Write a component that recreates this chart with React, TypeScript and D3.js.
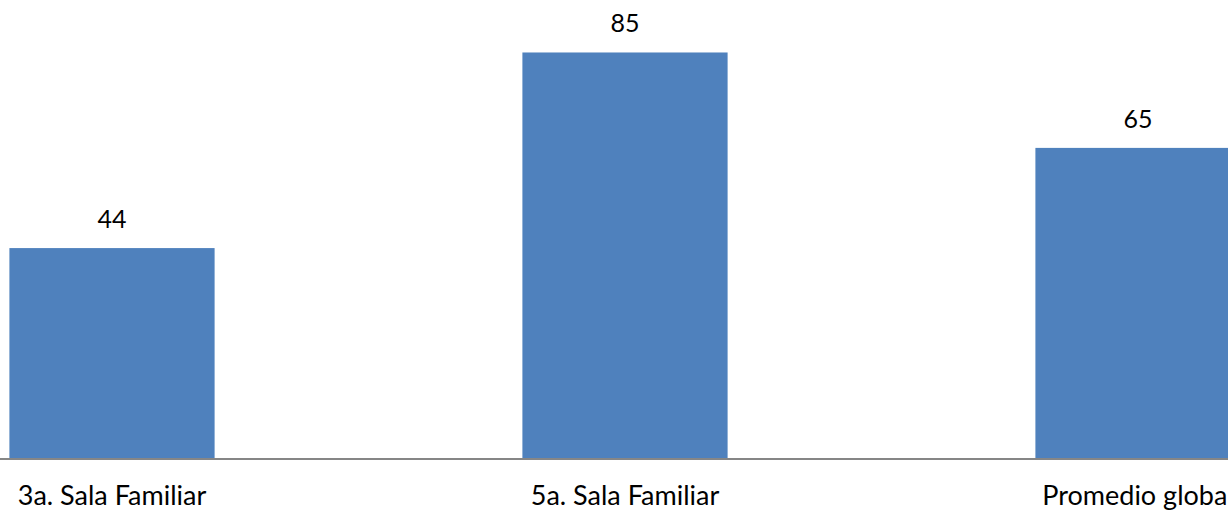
import React from 'react';
import * as d3 from 'd3';

const categories = ['3a. Sala Familiar', '5a. Sala Familiar', 'Promedio global'];
const values = [44, 85, 65];

const W = 1228;
const H = 510;
const baseline = 458;

const App: React.FC = () => {
  const x = d3.scaleBand<string>()
    .domain(categories)
    .range([-144.5, 1394.5])
    .paddingInner(0.6)
    .paddingOuter(0.3);

  const y = d3.scaleLinear()
    .domain([0, 96])
    .range([baseline, 0]);

  const font = 'Lato, "Open Sans", sans-serif';

  return (
    <div style={{ position: 'fixed', left: 0, top: 0 }}>
      <svg width={W} height={H} style={{ display: 'block', background: '#fff' }}>
        {categories.map((c, i) => (
          <rect
            key={c}
            x={x(c)}
            y={y(values[i])}
            width={x.bandwidth()}
            height={baseline - y(values[i])}
            fill="#4F81BD"
          />
        ))}
        <line x1={0} x2={W} y1={baseline + 1} y2={baseline + 1} stroke="#868686" strokeWidth={2} />
        {categories.map((c, i) => (
          <text
            key={'v' + c}
            x={(x(c) as number) + x.bandwidth() / 2}
            y={y(values[i]) - 20}
            textAnchor="middle"
            fontFamily={font}
            fontSize={25}
            fill="#000"
          >
            {values[i]}
          </text>
        ))}
        {categories.map(c => (
          <text
            key={'c' + c}
            x={(x(c) as number) + x.bandwidth() / 2}
            y={505}
            textAnchor="middle"
            fontFamily={font}
            fontSize={27}
            fill="#000"
          >
            {c}
          </text>
        ))}
      </svg>
    </div>
  );
};

export default App;
